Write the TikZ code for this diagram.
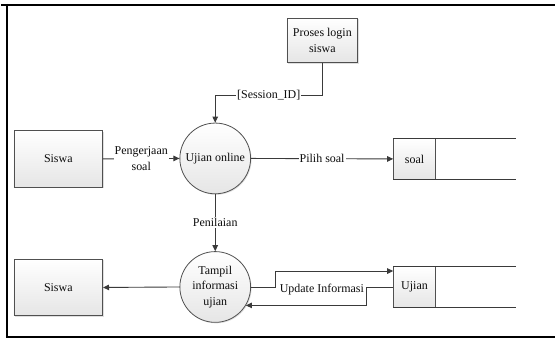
\documentclass[tikz,border=0pt]{standalone}
\usepackage{fontspec}
\setmainfont{Liberation Serif}
\usetikzlibrary{arrows.meta,shadows,calc}
\definecolor{linegray}{HTML}{3A3A3A}
\definecolor{edgegray}{HTML}{505050}
\begin{document}
\begin{tikzpicture}[x=1pt,y=-1pt,
  txt/.style={font=\fontsize{12}{15.5}\selectfont, text=black!95, align=center},
  ln/.style={draw=linegray, line width=0.9pt},
  flow/.style={ln, -{Triangle[length=6pt,width=5.5pt]}},
  lbl/.style={txt, fill=white, inner sep=1pt},
  shaded/.style={draw=edgegray, line width=0.8pt, top color=white, bottom color=black!10,
    drop shadow={shadow xshift=1pt, shadow yshift=-1pt, opacity=0.25}},
  entity/.style={shaded, txt, minimum width=89pt, minimum height=57pt},
  proc/.style={shaded, txt, circle, minimum size=71pt, inner sep=0pt},
  storebox/.style={shaded, txt, minimum width=42pt, minimum height=41pt, inner sep=0pt}]

  % page background and frame
  \fill[white] (0,0) rectangle (556,340);
  \draw[line width=2pt] (0,5) -- (556,5);
  \draw[line width=2pt] (6,4) -- (6,339);
  \draw[line width=2pt] (5,338) -- (556,338);

  % external entities and the login process
  \node[entity] (siswaA) at (57.5,159.5) {Siswa};
  \node[entity] (siswaB) at (57.5,288.5) {Siswa};
  \node[entity, minimum width=71pt, minimum height=45pt] (login) at (322.5,40.5) {Proses login\\siswa};

  % processes
  \node[proc] (ujian) at (215,159) {Ujian online};
  \node[proc] (tampil) at (215,288) {Tampil\\informasi\\ujian};

  % data stores (open-ended on the right)
  \node[storebox] (soal) at (415,159.5) {soal};
  \draw[ln] (soal.north west) -- ++(123,0);
  \draw[ln] (soal.south west) -- ++(123,0);
  \node[storebox] (ustore) at (415,288) {Ujian};
  \draw[ln] (ustore.north west) -- ++(123,0);
  \draw[ln] (ustore.south west) -- ++(123,0);

  % data flows
  \draw[flow] (login.south) -- ++(0,32) -| node[lbl, pos=0.25] {[Session\_ID]} (ujian.north);
  \draw[flow] (siswaA.east) -- node[lbl] {Pengerjaan\\soal} (ujian.west);
  \draw[flow] (ujian.east) -- node[lbl] {Pilih soal} (soal.west);
  \draw[flow] (ujian.south) -- node[lbl] {Penilaian} (tampil.north);
  \draw[flow] (tampil.west) -- (siswaB.east);
  \draw[flow] (tampil.east) -- ++(25,0) |- ($(ustore.west)+(0,-16)$);
  \draw[flow] (ustore.west) -- ++(-27,0) |- (tampil.-31);
  \node[lbl] (upd) at (322,291) {Update Informasi};
\end{tikzpicture}
\end{document}
